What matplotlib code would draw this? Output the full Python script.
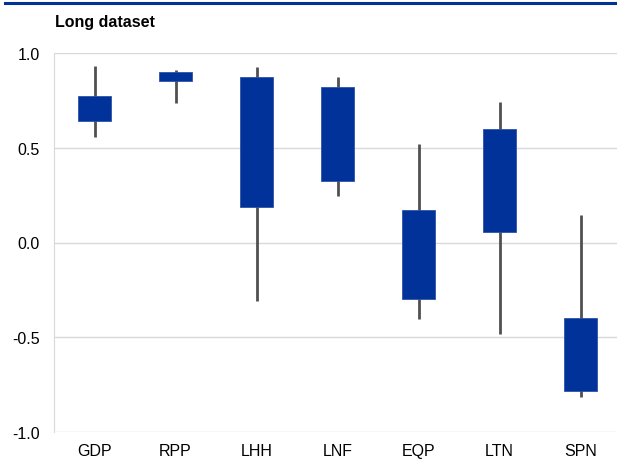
import numpy as np
import matplotlib
matplotlib.use("Agg")
import matplotlib.pyplot as plt
from matplotlib.lines import Line2D

plt.rcParams['font.family'] = ['Liberation Sans', 'DejaVu Sans']

categories = ["GDP", "RPP", "LHH", "LNF", "EQP", "LTN", "SPN"]
box_top = [0.775, 0.900, 0.872, 0.820, 0.173, 0.600, -0.400]
box_bottom = [0.641, 0.851, 0.187, 0.323, -0.297, 0.055, -0.785]
whisker_high = [0.933, 0.910, 0.925, 0.873, 0.520, 0.740, 0.143]
whisker_low = [0.557, 0.735, -0.309, 0.244, -0.405, -0.483, -0.817]

fig = plt.figure(figsize=(6.17, 4.60), dpi=100)
ax = fig.add_axes([54 / 617, 1 - 433 / 460, 1 - 54 / 617, (433 - 54) / 460])

x = np.arange(len(categories))
ax.vlines(x, whisker_low, whisker_high, color="#505050", linewidth=2, zorder=2)
heights = np.array(box_top) - np.array(box_bottom)
ax.bar(x, heights, bottom=box_bottom, width=0.41, color="#003299",
       edgecolor="#2d52a8", linewidth=0.6, zorder=3)

ax.set_ylim(-1, 1)
ax.set_xlim(-0.5, 6.45)
ax.set_yticks([-1.0, -0.5, 0.0, 0.5, 1.0])
ax.set_yticklabels(["-1.0", "-0.5", "0.0", "0.5", "1.0"])
ax.set_xticks(x)
ax.set_xticklabels(categories)
ax.tick_params(axis="both", length=0, labelsize=11.5, colors="black")
ax.tick_params(axis="y", pad=10)
ax.tick_params(axis="x", pad=8)
ax.grid(axis="y", color="#d9d9d9", linewidth=1)
ax.set_axisbelow(True)
for s in ["top", "right", "bottom"]:
    ax.spines[s].set_visible(False)
ax.spines["left"].set_color("#d9d9d9")

fig.text(55 / 617, 1 - 23 / 460, "Long dataset", fontsize=11.5, fontweight="bold",
         va="center", ha="left")
fig.add_artist(Line2D([5 / 617, 1], [1 - 4 / 460, 1 - 4 / 460], color="#003299",
                      linewidth=2.2, transform=fig.transFigure))

fig.savefig("out.png", dpi=100)
